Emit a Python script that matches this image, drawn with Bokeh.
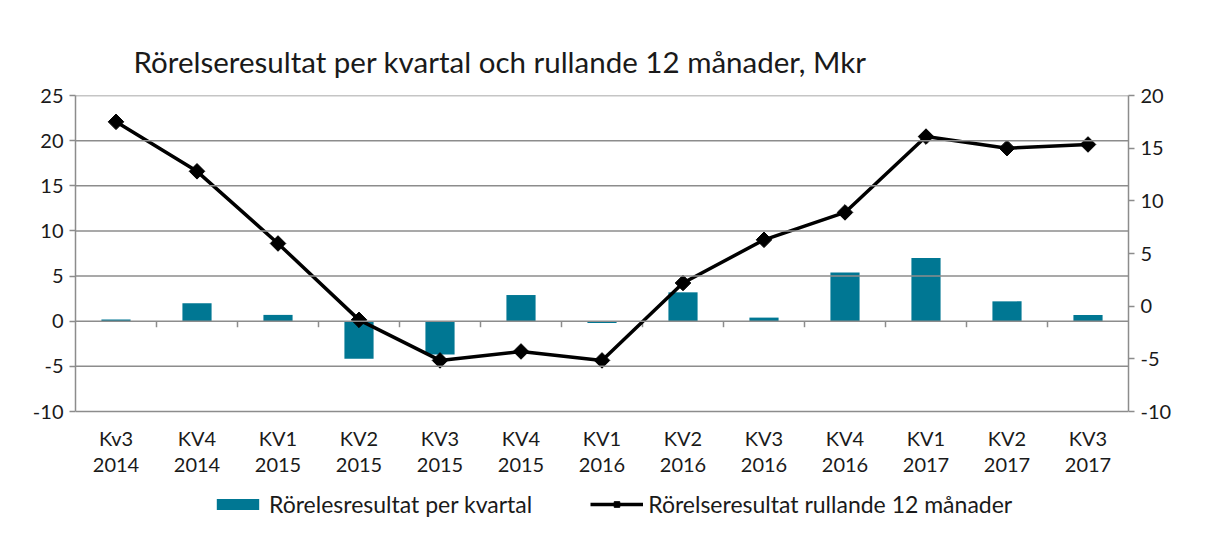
from bokeh.plotting import figure
from bokeh.models import (Range1d, LinearAxis, FixedTicker, Legend, LegendItem,
                          ColumnDataSource, Span)
from bokeh.core.properties import value
from bokeh.embed import file_html
from bokeh.resources import INLINE
import math

# ---- data ----
quarters = ["Kv3\n2014", "KV4\n2014", "KV1\n2015", "KV2\n2015", "KV3\n2015", "KV4\n2015",
            "KV1\n2016", "KV2\n2016", "KV3\n2016", "KV4\n2016", "KV1\n2017", "KV2\n2017",
            "KV3\n2017"]
quarterly = [0.2, 2.0, 0.7, -4.15, -3.7, 2.9, -0.2, 3.2, 0.4, 5.4, 7.0, 2.2, 0.7]
rolling = [17.5, 12.8, 5.95, -1.3, -5.15, -4.3, -5.15, 2.2, 6.3, 8.9, 16.1, 15.0, 15.35]
left_ticks = [-10, -5, 0, 5, 10, 15, 20, 25]
right_ticks = [-10, -5, 0, 5, 10, 15, 20]
title = "Rörelseresultat per kvartal och rullande 12 månader, Mkr"
bar_label = "Rörelesresultat per kvartal"
line_label = "Rörelseresultat rullande 12 månader"

FONT = "Lato"
GRID = "#8c8c8c"
BAR = "#007793"
TXT = "#1a1a1a"

# layout (pixels)
W, H = 1205, 534
TOP, LEFT, RIGHT = 95, 75, 77
PLOT_H = 316                       # height of the -10..25 band
FRAME_H = H - TOP
L_MIN, L_MAX = min(left_ticks), max(left_ticks)
R_MIN, R_MAX = min(right_ticks), max(right_ticks)
px_l = PLOT_H / (L_MAX - L_MIN)
px_r = PLOT_H / (R_MAX - R_MIN)
l_bottom = L_MAX - FRAME_H / px_l
r_bottom = R_MAX - FRAME_H / px_r

n = len(quarters)
xc = [i + 0.5 for i in range(n)]
src = ColumnDataSource(dict(x=xc, q=quarterly, r=rolling, lab=quarters))

p = figure(frame_width=W - LEFT - RIGHT, frame_height=FRAME_H, output_backend="svg",
           toolbar_location=None, x_range=Range1d(0, n), y_range=Range1d(l_bottom, L_MAX),
           min_border_left=LEFT, min_border_right=RIGHT, min_border_top=TOP,
           min_border_bottom=0, x_axis_location=None, y_axis_location=None)
p.extra_y_ranges = {"right": Range1d(r_bottom, R_MAX)}
p.outline_line_color = None
p.xgrid.grid_line_color = None
p.ygrid.grid_line_color = None

# title
p.title.text = title
p.title.text_font = FONT
p.title.text_font_size = "29.5px"
p.title.text_font_style = "normal"
p.title.text_color = TXT
p.title.align = "left"
p.title.offset = 58
p.title.standoff = 34

# horizontal grid lines
for t in left_ticks:
    p.add_layout(Span(location=t, dimension="width", line_color=GRID, line_width=1.5))

# bars
bars = p.vbar(x="x", top="q", bottom=0, width=0.36, source=src, fill_color=BAR,
              line_color=None)

# tick marks between categories on the zero line
tick_len = 6 / px_l
p.segment(x0=list(range(1, n)), y0=[0] * (n - 1), x1=list(range(1, n)),
          y1=[-tick_len] * (n - 1), line_color=GRID, line_width=1.5)

# rolling line
ln = p.line("x", "r", source=src, y_range_name="right", line_color="black", line_width=3.5)
mk = p.scatter("x", "r", source=src, y_range_name="right", marker="square", size=11,
               angle=math.pi / 4, fill_color="black", line_color="black")

# category labels under the plot band
p.text(x="x", y=L_MIN - 14 / px_l, text="lab", source=src, text_font=value(FONT),
       text_font_size="20px", text_color=TXT, text_align="center", text_baseline="top",
       text_line_height=1.1)

# y axes
la = LinearAxis(ticker=FixedTicker(ticks=left_ticks), bounds=(L_MIN, L_MAX),
                major_label_overrides={t: str(t) for t in left_ticks})
ra = LinearAxis(y_range_name="right", ticker=FixedTicker(ticks=right_ticks),
                bounds=(R_MIN, R_MAX),
                major_label_overrides={t: str(t) for t in right_ticks})
for ax in (la, ra):
    ax.axis_line_color = GRID
    ax.axis_line_width = 1.5
    ax.major_tick_line_color = GRID
    ax.major_tick_line_width = 1.5
    ax.major_tick_out = 6
    ax.major_tick_in = 0
    ax.minor_tick_line_color = None
    ax.major_label_text_font = FONT
    ax.major_label_text_font_size = "20px"
    ax.major_label_text_color = TXT
    ax.major_label_standoff = 6
p.add_layout(la, "left")
p.add_layout(ra, "right")

legend = Legend(items=[LegendItem(label=bar_label, renderers=[bars]),
                       LegendItem(label=line_label, renderers=[ln, mk])],
                orientation="horizontal", location=(136, 16),
                label_text_font=FONT, label_text_font_size="23px",
                label_text_color=TXT, glyph_width=53, glyph_height=14,
                spacing=58, label_standoff=5, border_line_color=None,
                background_fill_alpha=0, padding=0, margin=0)
p.add_layout(legend, "center")

open("out.html", "w").write(file_html(p, INLINE))
